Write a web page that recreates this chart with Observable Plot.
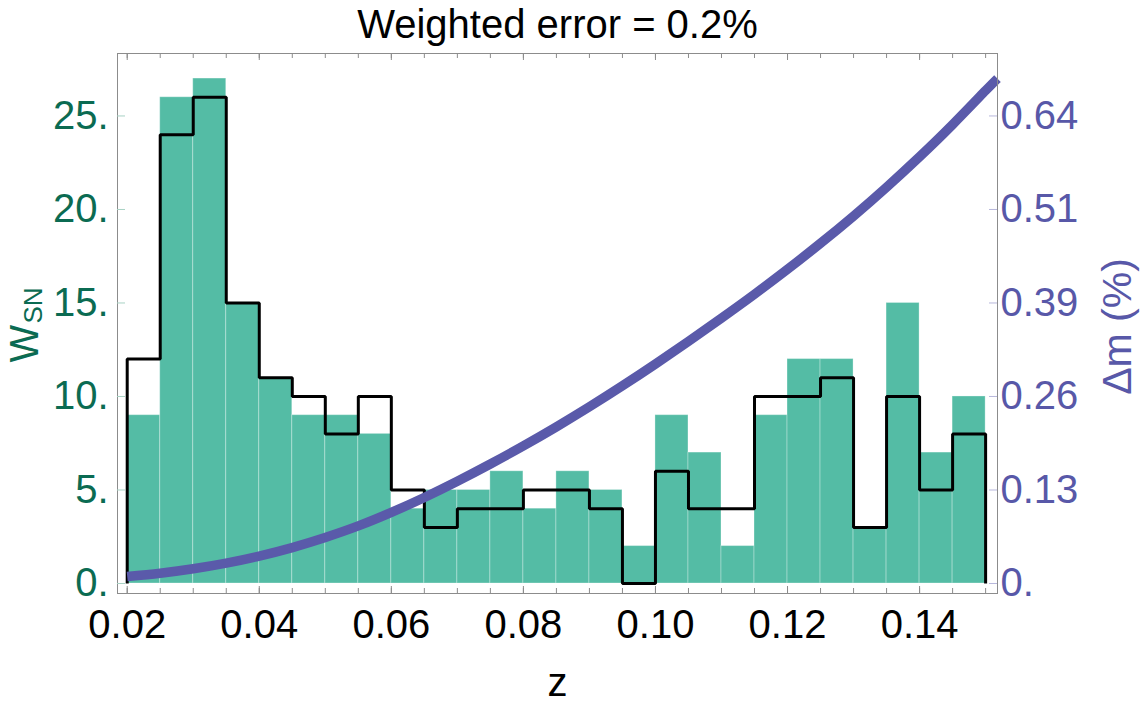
<!DOCTYPE html>
<html>
<head>
<meta charset="utf-8">
<script src="https://cdn.jsdelivr.net/npm/d3@7"></script>
<script src="https://cdn.jsdelivr.net/npm/@observablehq/plot@0.6"></script>
<style>
  html, body { margin: 0; padding: 0; background: #ffffff; }
</style>
</head>
<body>
<div id="chart"></div>
<script>
// ---------- data ----------
const title = "Weighted error = 0.2%";
const binStarts = [0.020, 0.025, 0.030, 0.035, 0.040, 0.045, 0.050, 0.055, 0.060, 0.065,
                   0.070, 0.075, 0.080, 0.085, 0.090, 0.095, 0.100, 0.105, 0.110, 0.115,
                   0.120, 0.125, 0.130, 0.135, 0.140, 0.145];
const binWidth = 0.005;
const weightsSN = [9, 26, 27, 15, 11, 9, 9, 8, 4, 5, 5, 6, 4, 6, 5, 2, 9, 7, 2, 9, 12, 12, 3, 15, 7, 10];
const stepValues = [12, 24, 26, 15, 11, 10, 8, 10, 5, 3, 4, 4, 5, 5, 4, 0, 6, 4, 4, 10, 10, 11, 3, 10, 5, 8];
const curveZ  = [0.020, 0.025, 0.030, 0.035, 0.040, 0.045, 0.050, 0.055, 0.060, 0.065,
                 0.070, 0.075, 0.080, 0.085, 0.090, 0.095, 0.100, 0.105, 0.110, 0.115,
                 0.120, 0.125, 0.130, 0.135, 0.140, 0.145, 0.150, 0.1518];
const curveDm = [0.0095, 0.0141, 0.0202, 0.0279, 0.0376, 0.0492, 0.0630, 0.0788, 0.0973, 0.1178,
                 0.1400, 0.1636, 0.1884, 0.2145, 0.2419, 0.2706, 0.3005, 0.3315, 0.3633, 0.3960,
                 0.4301, 0.4657, 0.5030, 0.5425, 0.5842, 0.6282, 0.6748, 0.6912];
const xTicks = [0.02, 0.04, 0.06, 0.08, 0.10, 0.12, 0.14];
const xTickLabels = ["0.02", "0.04", "0.06", "0.08", "0.10", "0.12", "0.14"];
const yTicks = [0, 5, 10, 15, 20, 25];
const leftTickLabels = ["0.", "5.", "10.", "15.", "20.", "25."];
const rightTickLabels = ["0.", "0.13", "0.26", "0.39", "0.51", "0.64"];
const dmTop = 0.64;      // right-axis value aligned with left tick 25
const wTop = 25;

// ---------- derived tables ----------
const bars = binStarts.map((z, i) => ({z0: z, z1: z + binWidth, w: weightsSN[i]}));
const zEnd = binStarts[binStarts.length - 1] + binWidth;
const stepPts = [{z: binStarts[0], w: 0}]
  .concat(binStarts.map((z, i) => ({z, w: stepValues[i]})))
  .concat([{z: zEnd, w: stepValues[stepValues.length - 1]}, {z: zEnd, w: 0}]);
const curve = curveZ.map((z, i) => ({z, w: curveDm[i] * wTop / dmTop}));
const minorTicks = binStarts.concat([zEnd]);

// ---------- layout / style ----------
const W = 1140, H = 702;
const mL = 117, mR = 143, mT = 53, mB = 109;
const plotW = W - mL - mR, plotH = H - mT - mB;
const green = "#0b6b52", purple = "#5858a8", frameGray = "#8c8c8c";
const font = "'Liberation Sans', Arial, Helvetica, sans-serif";

const chart = Plot.plot({
  width: W, height: H,
  marginLeft: mL, marginRight: mR, marginTop: mT, marginBottom: mB,
  x: {domain: [0.01853, 0.1518], axis: null},
  y: {domain: [-0.535, 28.34], axis: null},
  style: {fontFamily: font, background: "#ffffff", overflow: "visible"},
  marks: [
    Plot.rectY(bars, {x1: "z0", x2: "z1", y1: 0, y2: "w", fill: "#54bca5",
                      stroke: "#ffffff", strokeOpacity: 0.3, strokeWidth: 1}),
    Plot.line(stepPts, {x: "z", y: "w", curve: "step-after", stroke: "#000000",
                        strokeWidth: 3, strokeLinejoin: "miter", strokeLinecap: "butt"}),
    Plot.line(curve, {x: "z", y: "w", curve: "natural", stroke: "#5a5aaa",
                      strokeWidth: 9.5, strokeLinecap: "butt"}),
    Plot.frame({stroke: frameGray, strokeWidth: 1}),
    // bottom & top ticks (inward)
    Plot.tickX(minorTicks, {x: d => d, insetTop: plotH - 5, stroke: frameGray}),
    Plot.tickX(xTicks, {x: d => d, insetTop: plotH - 7, stroke: frameGray}),
    Plot.tickX(minorTicks, {x: d => d, insetBottom: plotH - 5, stroke: frameGray}),
    Plot.tickX(xTicks, {x: d => d, insetBottom: plotH - 7, stroke: frameGray}),
    // left & right ticks (inward)
    Plot.tickY(yTicks, {y: d => d, insetRight: plotW - 8, stroke: "#a8d2c4"}),
    Plot.tickY(yTicks, {y: d => d, insetLeft: plotW - 8, stroke: "#b8b8dc"}),
    // tick labels
    Plot.axisX(xTicks, {anchor: "bottom", tickSize: 0, tickPadding: 16, fontSize: 40,
                        fill: "#000000", label: null,
                        tickFormat: d => xTickLabels[xTicks.indexOf(d)]}),
    Plot.axisY(yTicks, {anchor: "left", tickSize: 0, tickPadding: 9, fontSize: 40,
                        fill: green, label: null,
                        tickFormat: d => leftTickLabels[yTicks.indexOf(d)]}),
    Plot.axisY(yTicks, {anchor: "right", tickSize: 0, tickPadding: 3, fontSize: 40,
                        fill: purple, label: null,
                        tickFormat: d => rightTickLabels[yTicks.indexOf(d)]}),
    // title and axis titles
    Plot.text([title], {frameAnchor: "top", textAnchor: "middle", lineAnchor: "bottom",
                        dy: -16, fontSize: 40, fill: "#000000"}),
    Plot.text(["z"], {frameAnchor: "bottom", textAnchor: "middle", lineAnchor: "bottom",
                      dy: 102, fontSize: 40, fill: "#000000"}),
    Plot.text(["W"], {frameAnchor: "left", textAnchor: "middle", lineAnchor: "bottom",
                      rotate: -90, dx: -80, dy: 20, fontSize: 40, fill: green}),
    Plot.text(["SN"], {frameAnchor: "left", textAnchor: "middle", lineAnchor: "bottom",
                       rotate: -90, dx: -76, dy: -18, fontSize: 26, fill: green}),
    Plot.text(["\u0394m (%)"], {frameAnchor: "right", textAnchor: "middle", lineAnchor: "bottom",
                                rotate: -90, dx: 133, dy: 3, fontSize: 41, fill: purple})
  ]
});
document.getElementById("chart").appendChild(chart);
</script>
</body>
</html>
